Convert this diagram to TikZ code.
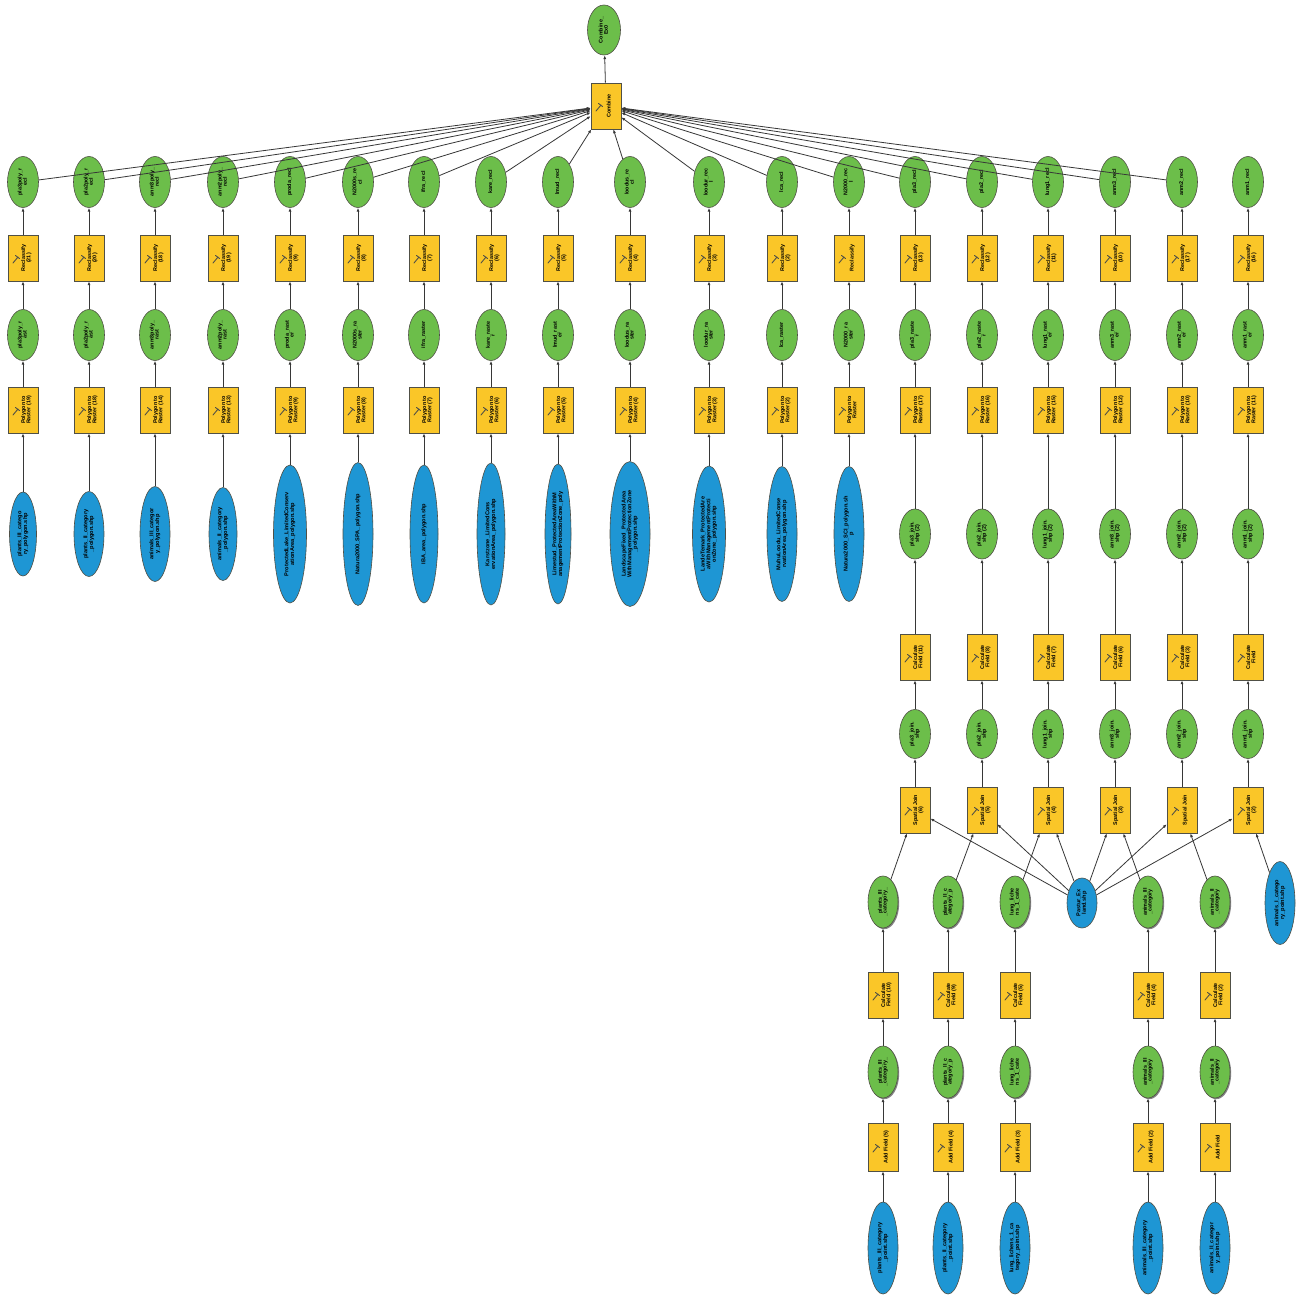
\documentclass[tikz,border=0pt]{standalone}
\usepackage{fontspec}
\setmainfont{Liberation Sans}
\usepackage{graphicx}
\usetikzlibrary{shapes.geometric,arrows.meta,shadows}
\definecolor{gfill}{RGB}{108,190,74}
\definecolor{bfill}{RGB}{30,150,212}
\definecolor{yfill}{RGB}{250,198,40}
\definecolor{bord}{RGB}{80,80,70}
\definecolor{edgec}{RGB}{55,55,55}
\newcommand{\vlab}[1]{\rotatebox{90}{\renewcommand{\arraystretch}{0.82}\begin{tabular}{@{}c@{}}#1\end{tabular}}}
\newcommand{\tlab}[1]{\hspace{7pt}\vlab{#1}}
\begin{document}
\begin{tikzpicture}[x=1pt,y=-1pt,
  lab/.style={font=\fontsize{5.4}{5.9}\selectfont\bfseries, text=black},
  gel/.style={lab, ellipse, draw=bord, line width=0.6pt, fill=gfill, inner sep=0pt, minimum width=31pt, minimum height=51pt},
  bel/.style={font=\fontsize{5.6}{6.3}\selectfont\bfseries, text=black, ellipse, draw=bord, line width=0.6pt, fill=bfill, inner sep=0pt, minimum width=30pt},
  tool/.style={lab, rectangle, draw=bord, line width=0.7pt, fill=yfill, inner sep=0pt, minimum width=30pt, minimum height=46pt,
     path picture={\draw[line width=0.9pt,line cap=round] ([shift={(-10pt,-5pt)}]path picture bounding box.center) -- ++(5pt,6pt) ++(-2.5pt,1.5pt) -- ++(4pt,-3pt);}},
  shad/.style={drop shadow={shadow xshift=1.2pt,shadow yshift=-1.2pt,fill=black!60,opacity=0.8}},
  edge/.style={draw=edgec, line width=0.8pt, -{Latex[length=3.8pt,width=3pt]}}
]
\useasboundingbox[fill=white] (0,0) rectangle (1301,1300);

% top
\node[gel, minimum width=33pt, minimum height=50pt] (ex0) at (604,30) {\vlab{Combine\_\\Ex0}};
\node[tool] (comb) at (606,106) {\tlab{Combine}};

% row 1: reclassified outputs
\foreach \i/\x/\l in {1/23/{pla3poly\_r\\ecl},2/89/{pla2poly\_r\\ecl},3/155/{anm3poly\_\\recl},4/223/{anm2poly\_\\recl},
  5/290/{proda\_recl},6/358/{N2000s\_re\\cl},7/424/{ifra\_recl},8/491/{kare\_recl},9/558/{lmud\_recl},
  10/630/{loodus\_re\\cl},11/709/{loodur\_rec\\l},12/782/{lca\_recl},13/849/{N2000\_rec\\l},
  14/915/{pla3\_recl},15/982/{pla2\_recl},16/1048/{lung1\_recl},17/1115/{anm3\_recl},18/1182/{anm2\_recl},19/1248/{anm1\_recl}}
  \node[gel] (t\i) at (\x,182) {\vlab{\l}};

% row 2: Reclassify
\foreach \i/\x/\l in {1/23/{(21)},2/89/{(20)},3/155/{(18)},4/223/{(19)},5/290/{(9)},6/358/{(8)},7/424/{(7)},8/491/{(6)},
  9/558/{(5)},10/630/{(4)},11/709/{(3)},12/782/{(2)},13/849/{},14/915/{(13)},15/982/{(12)},16/1048/{(11)},
  17/1115/{(10)},18/1182/{(17)},19/1248/{(16)}}
  \node[tool] (rc\i) at (\x,258) {\tlab{Reclassify\\\l}};

% row 3: rasters
\foreach \i/\x/\l in {1/23/{pla3poly\_r\\ast},2/89/{pla2poly\_r\\ast},3/155/{anm3poly\_\\rast},4/223/{anm2poly\_\\rast},
  5/290/{proda\_rast\\er},6/358/{N2000s\_ra\\ster},7/424/{ifra\_raster},8/491/{kare\_raste\\r},9/558/{lmud\_rast\\er},
  10/630/{loodus\_ra\\ster},11/709/{loodur\_ra\\ster},12/782/{lca\_raster},13/849/{N2000\_ra\\ster},
  14/915/{pla3\_raste\\r},15/982/{pla2\_raste\\r},16/1048/{lung1\_rast\\er},17/1115/{anm3\_rast\\er},18/1182/{anm2\_rast\\er},19/1248/{anm1\_rast\\er}}
  \node[gel] (r\i) at (\x,335) {\vlab{\l}};

% row 4: Polygon to Raster
\foreach \i/\x/\l in {1/23/{ (19)},2/89/{ (18)},3/155/{ (14)},4/223/{ (13)},5/290/{ (9)},6/358/{ (8)},7/424/{ (7)},8/491/{ (6)},
  9/558/{ (5)},10/630/{ (4)},11/709/{ (3)},12/782/{ (2)},13/849/{},14/915/{ (17)},15/982/{ (16)},16/1048/{ (15)},
  17/1115/{ (12)},18/1182/{ (10)},19/1248/{ (11)}}
  \node[tool] (p\i) at (\x,410) {\tlab{Polygon to\\Raster\l}};

% row 5: source polygons
\foreach \i/\x/\w/\h/\l in {1/23/27/84/{plants\_III\_catego\\ry\_polygon.shp},
  2/89/30/85/{plants\_II\_category\\\_polygon.shp},
  3/155/30/95/{animals\_III\_categor\\y\_polygon.shp},
  4/223/28/93/{animals\_II\_category\\\_polygon.shp},
  5/290/33/138/{ProtectedLake\_LimitedConserv\\ationArea\_polygon.shp},
  6/358/30/143/{Natura2000\_SPA\_polygon.shp},
  7/424/28/138/{IBA\_area\_polygon.shp},
  8/491/28/142/{Karstzone\_LimitedCons\\ervationArea\_polygon.shp},
  9/558/26/140/{Limestud\_ProtectedAreaWithM\\anagementProtectionZone\_poly},
  10/630/40/145/{LandscapeFixed\_ProtectedArea\\WithManagementProtectionZone\\\_polygon.shp},
  11/709/33/136/{LandeTemark\_ProtectedAre\\aWithManagementProtecti\\onZone\_polygon.shp},
  12/782/30/135/{MuhuLoodu\_LimitedConse\\rvationArea\_polygon.shp},
  13/849/30/135/{Natura2000\_SCI\_polygon.sh\\p}}
  \node[bel, minimum width=\w pt, minimum height=\h pt] (s\i) at (\x,534) {\vlab{\l}};

% right columns: join outputs, Calculate Field, Spatial Join
\foreach \i/\x/\n/\c/\s in {14/915/pla3/{ (11)}/{(6)},15/982/pla2/{ (8)}/{(5)},16/1048/lung1/{ (7)}/{(4)},
  17/1115/anm3/{ (6)}/{(3)},18/1182/anm2/{ (3)}/{},19/1248/anm1/{}/{(2)}}{
  \node[gel, minimum height=50pt] (ja\i) at (\x,534) {\vlab{\n\_join.\\shp (2)}};
  \node[tool] (cf\i) at (\x,657) {\tlab{Calculate\\Field\c}};
  \node[gel, minimum height=49pt] (jb\i) at (\x,734) {\vlab{\n\_join.\\shp}};
  \node[tool] (sj\i) at (\x,810) {\tlab{Spatial Join\\\s}};
}

% bottom section
\foreach \i/\x/\n/\c/\a/\b in {1/883/{plants\_III\\\_category\_}/{ (10)}/{ (5)}/{plants\_III\_category\\\_point.shp},
  2/948/{plants\_II\_c\\ategory\_p}/{ (9)}/{ (4)}/{plants\_II\_category\\\_point.shp},
  3/1015/{lung\_liche\\ns\_1\_cate}/{ (5)}/{ (3)}/{lung\_lichens\_1\_ca\\tegory\_point.shp},
  4/1148/{animals\_III\\\_category}/{ (4)}/{ (2)}/{animals\_III\_category\\\_point.shp},
  5/1215/{animals\_II\\\_category}/{ (2)}/{}/{animals\_II\_categor\\y\_point.shp}}{
  \node[gel, shad, minimum width=30pt, minimum height=52pt] (ga\i) at (\x,902) {\vlab{\n}};
  \node[tool, shad] (bc\i) at (\x,995) {\tlab{Calculate\\Field\c}};
  \node[gel, shad, minimum width=30pt, minimum height=52pt] (gb\i) at (\x,1072) {\vlab{\n}};
  \node[tool, shad, minimum height=48pt] (af\i) at (\x,1147) {\tlab{Add Field\a}};
  \node[bel, minimum width=30pt, minimum height=92pt] (bb\i) at (\x,1248) {\vlab{\b}};
}
\node[bel, minimum width=30pt, minimum height=50pt] (bm) at (1082,903) {\vlab{Pastur\_Ex\\land.shp}};
\node[bel, minimum width=30pt, minimum height=83pt] (ba) at (1280,903) {\vlab{animals\_I\_catego\\ry\_point.shp}};

% connectors
\draw[edge] (comb) -- (ex0);
\foreach \i in {1,...,18} \draw[edge] (t\i) -- (comb);
\foreach \i in {1,...,19} {
  \draw[edge] (rc\i) -- (t\i);
  \draw[edge] (r\i) -- (rc\i);
  \draw[edge] (p\i) -- (r\i);
}
\foreach \i in {1,...,13} \draw[edge] (s\i) -- (p\i);
\foreach \i in {14,...,19} {
  \draw[edge] (ja\i) -- (p\i);
  \draw[edge] (cf\i) -- (ja\i);
  \draw[edge] (jb\i) -- (cf\i);
  \draw[edge] (sj\i) -- (jb\i);
  \draw[edge] (bm) -- (sj\i);
}
\foreach \i in {1,...,5} {
  \draw[edge] (bb\i) -- (af\i);
  \draw[edge] (af\i) -- (gb\i);
  \draw[edge] (gb\i) -- (bc\i);
  \draw[edge] (bc\i) -- (ga\i);
}
\draw[edge] (ga1) -- (sj14);
\draw[edge] (ga2) -- (sj15);
\draw[edge] (ga3) -- (sj16);
\draw[edge] (ga4) -- (sj17);
\draw[edge] (ga5) -- (sj18);
\draw[edge] (ba) -- (sj19);
\end{tikzpicture}
\end{document}
